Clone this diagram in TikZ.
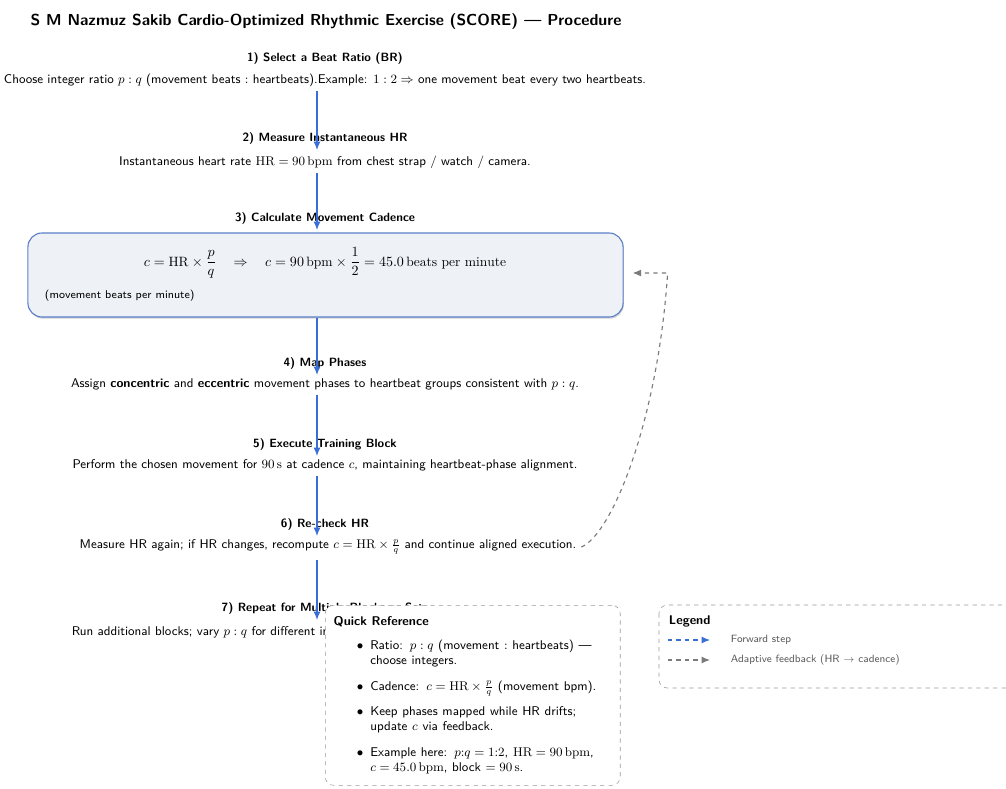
\documentclass[tikz,border=0pt]{standalone}
\usepackage{fontspec}
\usepackage{amsmath}
\usepackage{enumitem}
\usetikzlibrary{arrows.meta, calc, positioning, shadows}

\definecolor{fwdblue}{HTML}{3A6ED7}
\definecolor{boxline}{HTML}{5C80C8}
\definecolor{boxfill}{HTML}{EEF1F6}
\definecolor{fbgray}{HTML}{7A7A7A}
\definecolor{framegray}{HTML}{9A9A9A}
\definecolor{legtext}{HTML}{5A5A5A}

\begin{document}
\begin{tikzpicture}[x=0.025cm, y=-0.025cm, font=\sffamily,
  steptitle/.style={font=\sffamily\bfseries\fontsize{8.5}{10}\selectfont},
  stepdesc/.style={font=\sffamily\small},
  legendtext/.style={font=\sffamily\fontsize{7.5}{9}\selectfont, text=legtext, anchor=west},
  calcbox/.style={draw=boxline, thick, fill=boxfill, rounded corners=10pt,
    drop shadow={opacity=0.35, shadow xshift=0.6pt, shadow yshift=-1.2pt},
    minimum width=14.875cm, minimum height=2.1cm},
  sidebox/.style={draw=framegray, dashed, fill=white, rounded corners=6pt},
  fwd/.style={-{Latex[length=6pt, width=5pt]}, fwdblue, thick},
  feedback/.style={-{Latex[length=6pt, width=5pt]}, fbgray, thick, dashed}]

\useasboundingbox (0,0) rectangle (1006,789);

% title
\node (title)[font=\sffamily\bfseries\fontsize{11.3}{13}\selectfont] at (326,22)
  {S M Nazmuz Sakib Cardio-Optimized Rhythmic Exercise (SCORE) --- Procedure};

\coordinate (spine) at (317,0);

% steps
\node (t1)[steptitle] at (325,59) {1) Select a Beat Ratio (BR)};
\node (d1)[stepdesc] at (325,80) {Choose integer ratio $p:q$ (movement beats $:$ heartbeats).Example: $1:2 \Rightarrow$ one movement beat every two heartbeats.};

\node (t2)[steptitle] at (325,139) {2) Measure Instantaneous HR};
\node (d2)[stepdesc] at (325,162) {Instantaneous heart rate $\mathrm{HR}=90\,\mathrm{bpm}$ from chest strap / watch / camera.};

\node (t3)[steptitle] at (325,219) {3) Calculate Movement Cadence};
\node (box)[calcbox] at (325.5,275) {};
\node (calc)[font=\fontsize{9.6}{11}\selectfont] at (325,263) {$c=\mathrm{HR}\times\dfrac{p}{q} \quad\Rightarrow\quad c=90\,\mathrm{bpm}\times\dfrac{1}{2}=45.0\,\mathrm{beats\ per\ minute}$};
\node (unit)[font=\sffamily\footnotesize, anchor=west] at (40,296) {(movement beats per minute)};

\node (t4)[steptitle] at (325,364) {4) Map Phases};
\node (d4)[stepdesc] at (325,384) {Assign \textbf{concentric} and \textbf{eccentric} movement phases to heartbeat groups consistent with $p:q$.};

\node (t5)[steptitle] at (325,445) {5) Execute Training Block};
\node (d5)[stepdesc] at (325,465) {Perform the chosen movement for $90\,\mathrm{s}$ at cadence $c$, maintaining heartbeat-phase alignment.};

\node (t6)[steptitle] at (325,525) {6) Re-check HR};
\node (d6)[stepdesc] at (328,547) {Measure HR again; if HR changes, recompute $c=\mathrm{HR}\times\frac{p}{q}$ and continue aligned execution.};

\node (t7)[steptitle] at (325,609) {7) Repeat for Multiple Blocks or Sets};
\node (d7)[stepdesc] at (325,632) {Run additional blocks; vary $p:q$ for different intensities, recomputing $c$ from the current HR.};

% forward arrows
\draw[fwd] (d1.south -| spine) -- (t2.south -| spine);
\draw[fwd] (d2.south -| spine) -- (t3.south -| spine);
\draw[fwd] (box.south -| spine) -- (t4.south -| spine);
\draw[fwd] (d4.south -| spine) -- (t5.south -| spine);
\draw[fwd] (d5.south -| spine) -- (t6.south -| spine);
\draw[fwd] (d6.south -| spine) -- (t7.south -| spine);

% adaptive feedback
\coordinate (fbend) at ($(box.east)+(9,-2)$);
\coordinate (fbtop) at ($(fbend)+(35,0)$);
\draw[feedback] (d6.east) .. controls +(30,-12) and +(-10,150) .. (fbtop) -- (fbend);

% quick reference
\node (qr)[sidebox, anchor=north west, text width=6.95cm, minimum height=4.5cm,
  inner sep=6pt, align=left] at (325,605) {%
  \vspace*{-3pt}\small\textbf{Quick Reference}\par
  \begin{itemize}[leftmargin=26pt, rightmargin=6pt, labelsep=5pt, itemsep=5pt, topsep=7pt, label=$\bullet$]
    \item Ratio: $p:q$ (movement $:$ heartbeats) --- choose integers.
    \item Cadence: $c=\mathrm{HR}\times\frac{p}{q}$ (movement bpm).
    \item Keep phases mapped while HR drifts; update $c$ via feedback.
    \item Example here: $p{:}q=1{:}2$, $\mathrm{HR}=90\,\mathrm{bpm}$, $c=45.0\,\mathrm{bpm}$, block $=90\,\mathrm{s}$.
  \end{itemize}};

% legend
\draw[sidebox] (659,605) rectangle (1040,688);
\node (leg)[font=\sffamily\bfseries\small, anchor=west] at (664,621) {Legend};
\coordinate (l1a) at (668,640);
\coordinate (l1b) at (710,640);
\coordinate (l2a) at (668,660);
\coordinate (l2b) at (710,660);
\draw[fwd, dashed] (l1a) -- (l1b);
\draw[feedback] (l2a) -- (l2b);
\node (leg1)[legendtext] at (726,640) {Forward step};
\node (leg2)[legendtext] at (726,660) {Adaptive feedback (HR $\to$ cadence)};

\end{tikzpicture}
\end{document}
